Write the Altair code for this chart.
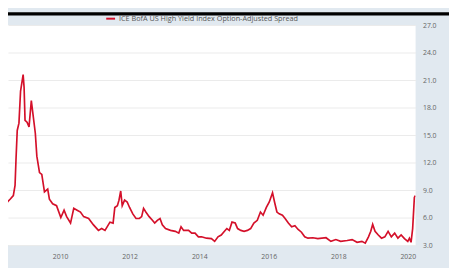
import altair as alt
import pandas as pd

series_name = "ICE BofA US High Yield Index Option-Adjusted Spread"

dates = [
    "2008-06-02", "2008-06-26", "2008-07-24", "2008-08-27", "2008-09-14", "2008-09-24",
    "2008-10-07", "2008-10-25", "2008-11-11", "2008-12-08", "2008-12-18", "2008-12-28",
    "2009-01-18", "2009-02-08", "2009-03-04", "2009-03-21", "2009-04-15", "2009-05-01",
    "2009-05-29", "2009-06-22", "2009-07-20", "2009-08-23", "2009-09-10", "2009-10-14",
    "2009-11-24", "2010-01-08", "2010-02-11", "2010-03-10", "2010-04-20", "2010-05-24",
    "2010-06-28", "2010-08-02", "2010-09-05", "2010-10-27", "2010-12-17", "2011-02-07",
    "2011-03-13", "2011-04-17", "2011-06-08", "2011-07-11", "2011-07-29", "2011-08-25",
    "2011-09-11", "2011-09-29", "2011-10-15", "2011-11-09", "2011-12-06", "2011-12-31",
    "2012-02-03", "2012-03-08", "2012-04-12", "2012-05-06", "2012-05-26", "2012-06-19",
    "2012-07-24", "2012-08-27", "2012-09-20", "2012-10-18", "2012-11-15", "2012-12-09",
    "2013-01-12", "2013-03-05", "2013-04-25", "2013-05-31", "2013-06-24", "2013-07-21",
    "2013-09-11", "2013-10-14", "2013-11-18", "2013-12-23", "2014-01-25", "2014-03-18",
    "2014-05-09", "2014-06-12", "2014-07-17", "2014-08-20", "2014-09-23", "2014-10-18",
    "2014-11-13", "2014-12-11", "2015-01-14", "2015-02-08", "2015-03-14", "2015-04-17",
    "2015-05-22", "2015-06-25", "2015-07-29", "2015-09-03", "2015-10-06", "2015-11-03",
    "2015-12-07", "2016-01-07", "2016-02-10", "2016-03-02", "2016-03-27", "2016-04-20",
    "2016-05-24", "2016-06-21", "2016-07-25", "2016-08-29", "2016-10-02", "2016-11-05",
    "2016-12-10", "2017-01-13", "2017-02-16", "2017-04-09", "2017-05-31", "2017-08-25",
    "2017-10-15", "2017-12-06", "2018-01-26", "2018-04-04", "2018-05-26", "2018-07-17",
    "2018-09-06", "2018-10-11", "2018-11-14", "2018-12-08", "2018-12-28", "2019-01-22",
    "2019-02-25", "2019-03-31", "2019-05-05", "2019-06-08", "2019-07-12", "2019-08-16",
    "2019-09-19", "2019-10-23", "2019-11-27", "2020-01-01", "2020-01-18", "2020-02-04",
    "2020-02-21", "2020-03-10", "2020-03-20",
]

spread = [
    6.25, 7.7, 8.0, 8.4, 9.5, 12.3,
    15.5, 16.3, 19.8, 21.6, 20.2, 16.6,
    16.4, 15.9, 18.75, 17.3, 15.2, 12.7,
    10.9, 10.7, 8.8, 9.1, 8.0, 7.5,
    7.3, 6.0, 6.8, 6.1, 5.4, 7.0,
    6.8, 6.6, 6.1, 5.9, 5.2, 4.6,
    4.8, 4.6, 5.5, 5.4, 7.1, 7.3,
    7.9, 8.9, 7.3, 7.9, 7.7, 7.1,
    6.4, 5.9, 5.9, 6.1, 7.0, 6.6,
    6.1, 5.7, 5.4, 5.7, 5.9, 5.2,
    4.8, 4.6, 4.5, 4.3, 5.0, 4.6,
    4.6, 4.3, 4.3, 3.9, 3.9, 3.75,
    3.7, 3.4, 3.9, 4.1, 4.5, 4.8,
    4.6, 5.5, 5.4, 4.8, 4.6, 4.5,
    4.6, 4.8, 5.4, 5.7, 6.6, 6.25,
    7.1, 7.7, 8.7, 7.7, 6.6, 6.4,
    6.25, 5.9, 5.4, 5.0, 5.1, 4.7,
    4.4, 3.9, 3.75, 3.8, 3.7, 3.8,
    3.4, 3.6, 3.4, 3.5, 3.6, 3.3,
    3.4, 3.2, 3.9, 4.5, 5.25, 4.5,
    4.1, 3.75, 3.9, 4.5, 3.9, 4.3,
    3.75, 4.1, 3.7, 3.4, 3.75, 3.3,
    4.8, 8.2, 8.4,
]

y_ticks = [3, 6, 9, 12, 15, 18, 21, 24, 27]
x_tick_years = [2010, 2012, 2014, 2016, 2018, 2020]

RED = "#d4102a"
BG = "#e1e9f0"
W, H = 415, 224

df = pd.DataFrame({"date": dates, "spread": spread, "series": series_name})

line = alt.Chart(df).mark_line(clip=True, strokeWidth=1.7).encode(
    x=alt.X(
        "date:T",
        scale=alt.Scale(
            type="utc",
            domain=[
                alt.DateTime(year=2008, month=7, date=2, utc=True),
                alt.DateTime(year=2020, month=3, date=23, utc=True),
            ],
        ),
        axis=alt.Axis(
            values=[alt.DateTime(year=y, month=1, date=1, utc=True) for y in x_tick_years],
            format="%Y",
            grid=False,
            domain=False,
            ticks=False,
            tickSize=0,
            labelPadding=8,
            labelFontSize=7,
            labelColor="#666666",
            labelFont="Open Sans",
            title=None,
        ),
    ),
    y=alt.Y(
        "spread:Q",
        scale=alt.Scale(domain=[3, 27], nice=False, zero=False),
        axis=alt.Axis(
            orient="right",
            values=y_ticks,
            format=".1f",
            grid=True,
            gridColor="#ebebeb",
            gridWidth=1,
            domain=False,
            ticks=False,
            tickSize=0,
            labelPadding=7,
            labelFontSize=7,
            labelColor="#666666",
            labelFont="Open Sans",
            title=None,
        ),
    ),
    color=alt.Color(
        "series:N",
        scale=alt.Scale(range=[RED]),
        legend=alt.Legend(
            orient="none",
            legendX=99,
            legendY=-12,
            direction="horizontal",
            title=None,
            symbolType="stroke",
            symbolStrokeWidth=2,
            symbolSize=81,
            labelFontSize=7.4,
            labelColor="#555555",
            labelFont="Open Sans",
            labelOffset=3,
            labelLimit=0,
            padding=0,
        ),
    ),
)

bar = alt.Chart(pd.DataFrame({"k": [0]})).mark_rule(
    color="black", strokeWidth=3.3, clip=False
).encode(
    x=alt.value(0), x2=alt.value(449), y=alt.value(-11.3)
)

chart = alt.layer(bar, line).properties(
    width=W,
    height=H,
    padding={"left": 0, "top": 15, "right": 34, "bottom": 21},
    autosize=alt.AutoSizeParams(type="none"),
    background=BG,
).configure_view(fill="white", strokeWidth=0)

chart.save("out.html", embed_options={"renderer": "svg", "actions": False})
